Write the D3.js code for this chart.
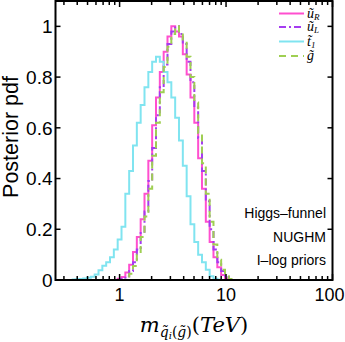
<!DOCTYPE html>
<html><head><meta charset="utf-8">
<script src="https://cdn.jsdelivr.net/npm/d3@7"></script>
<style>body{margin:0;background:#fff}svg{display:block}</style>
</head><body>
<script>
// bin lower edges in log10(TeV), bin width 0.036
const binEdgesLog = [-0.45,-0.414,-0.378,-0.342,-0.306,-0.27,-0.234,-0.198,-0.162,-0.126,-0.09,-0.054,-0.018,0.018,0.054,0.09,0.126,0.162,0.198,0.234,0.27,0.306,0.342,0.378,0.414,0.45,0.486,0.522,0.558,0.594,0.63,0.666,0.702,0.738,0.774,0.81,0.846,0.882,0.918,0.954,0.99,1.026,1.062,1.098];
const uR  = [0,0,0,0,0,0,0,0,0,0,0,0,0.005,0.012,0.03,0.06,0.11,0.17,0.24,0.34,0.47,0.61,0.72,0.82,0.90,0.96,1.0,0.98,0.96,0.89,0.81,0.72,0.62,0.48,0.36,0.23,0.15,0.09,0.05,0.02,0.005,0,0];
const uL  = [0,0,0,0,0,0,0,0,0,0,0,0,0,0.005,0.015,0.035,0.07,0.12,0.19,0.27,0.39,0.52,0.65,0.76,0.85,0.93,0.98,1.0,0.97,0.93,0.86,0.78,0.68,0.56,0.43,0.31,0.20,0.12,0.07,0.035,0.012,0.003,0];
const t1  = [0.002,0.003,0.004,0.006,0.009,0.013,0.022,0.038,0.056,0.07,0.09,0.12,0.16,0.21,0.34,0.43,0.53,0.62,0.69,0.76,0.82,0.86,0.88,0.86,0.82,0.78,0.72,0.64,0.55,0.45,0.33,0.22,0.15,0.10,0.07,0.04,0.015,0.005,0.001,0,0,0,0];
const gl  = [0,0,0,0,0,0,0,0,0,0,0,0,0,0,0.008,0.025,0.055,0.10,0.17,0.25,0.36,0.49,0.62,0.74,0.84,0.92,0.97,1.0,0.98,0.94,0.88,0.80,0.70,0.58,0.46,0.34,0.23,0.14,0.08,0.04,0.015,0.004,0];
const seriesNames = ["ũR","ũL","t̃1","g̃"];
const yTicks = [0,0.2,0.4,0.6,0.8,1];
const yTickLabels = ["0","0.2","0.4","0.6","0.8","1"];
const xMajor = [1,10,100];
const xMajorLabels = ["1","10","100"];
const notes = ["Higgs\u2013funnel","NUGHM","I\u2013log priors"];

const W=345,H=342;
const L=55.5,R=332.5,T=1,B=280;
const svg=d3.select("body").append("svg").attr("width",W).attr("height",H);
const x=d3.scaleLog().domain([0.25,100]).range([L,R]);
const y=d3.scaleLinear().domain([0,1.1]).range([B,T]);

const styles=[
 {data:uR,color:"#ff4fcf",dash:null,w:2},
 {data:uL,color:"#a53cf0",dash:"7,3,2,3",w:2},
 {data:t1,color:"#80e4f0",dash:null,w:2},
 {data:gl,color:"#9fcf52",dash:"7,5",w:2}
];
const line=d3.line().x(d=>x(Math.pow(10,d[0]))).y(d=>y(d[1])).curve(d3.curveStepAfter);
const g=svg.append("g");
styles.forEach(s=>{
  const pts=s.data.map((v,i)=>[binEdgesLog[i],v]);
  pts.push([binEdgesLog[s.data.length],s.data[s.data.length-1]]);
  g.append("path").attr("d",line(pts)).attr("fill","none").attr("stroke",s.color)
   .attr("stroke-width",s.w).attr("stroke-dasharray",s.dash);
});

// axes box
const ax=svg.append("g");
ax.append("rect").attr("x",L).attr("y",T).attr("width",R-L).attr("height",B-T)
  .attr("fill","none").attr("stroke","#000").attr("stroke-width",2);
// y ticks
yTicks.forEach((t,i)=>{
  ax.append("line").attr("x1",L).attr("x2",L+5).attr("y1",y(t)).attr("y2",y(t)).attr("stroke","#000").attr("stroke-width",1.5);
  ax.append("line").attr("x1",R).attr("x2",R-5).attr("y1",y(t)).attr("y2",y(t)).attr("stroke","#000").attr("stroke-width",1.5);
  ax.append("text").attr("x",L-3).attr("y",y(t)).attr("dy","0.36em").attr("text-anchor","end")
    .attr("font-family","Liberation Sans, Arial, sans-serif").attr("font-size",19).text(yTickLabels[i]);
});
// x ticks
const minors=[];
[0.1,1,10].forEach(d=>{for(let k=2;k<=9;k++){const v=d*k; if(v>=0.25&&v<100) minors.push(v);}});
minors.forEach(v=>{
  ax.append("line").attr("x1",x(v)).attr("x2",x(v)).attr("y1",B).attr("y2",B-4).attr("stroke","#000").attr("stroke-width",1.5);
  ax.append("line").attr("x1",x(v)).attr("x2",x(v)).attr("y1",T).attr("y2",T+4).attr("stroke","#000").attr("stroke-width",1.5);
});
xMajor.forEach((v,i)=>{
  ax.append("line").attr("x1",x(v)).attr("x2",x(v)).attr("y1",B).attr("y2",B-6).attr("stroke","#000").attr("stroke-width",1.5);
  ax.append("line").attr("x1",x(v)).attr("x2",x(v)).attr("y1",T).attr("y2",T+6).attr("stroke","#000").attr("stroke-width",1.5);
  ax.append("text").attr("x",Math.min(x(v),329.5)).attr("y",301).attr("text-anchor","middle")
    .attr("font-family","Liberation Sans, Arial, sans-serif").attr("font-size",18).text(xMajorLabels[i]);
});

// y label
svg.append("text").attr("transform","translate(17.5,137) rotate(-90)").attr("text-anchor","middle")
  .attr("font-family","Liberation Sans, Arial, sans-serif").attr("font-size",21.5).text("Posterior pdf");

// x label
const xl=svg.append("text").attr("x",194).attr("y",332).attr("text-anchor","middle")
  .attr("font-family","DejaVu Serif, Liberation Serif, serif").attr("font-size",21);
xl.append("tspan").attr("font-style","italic").text("m");
xl.append("tspan").attr("font-size",14).attr("font-style","italic").attr("dy",5).text("q\u0303");
xl.append("tspan").attr("font-size",10).attr("font-style","italic").attr("dy",2).text("i");
xl.append("tspan").attr("font-size",14).attr("dy",-2).text("(");
xl.append("tspan").attr("font-size",14).attr("font-style","italic").text("g\u0303");
xl.append("tspan").attr("font-size",14).text(")");
xl.append("tspan").attr("dy",-5).text("(");
xl.append("tspan").attr("font-style","italic").text("TeV");
xl.append("tspan").text(")");

// legend
const legY=[13.5,27,41.5,56];
const legSub=[["u","R"],["u","L"],["t","1"],["g",""]];
styles.forEach((s,i)=>{
  svg.append("line").attr("x1",279).attr("x2",304).attr("y1",legY[i]).attr("y2",legY[i])
    .attr("stroke",s.color).attr("stroke-width",s.w).attr("stroke-dasharray",s.dash);
  const t=svg.append("text").attr("x",307).attr("y",legY[i]+4)
    .attr("font-family","Liberation Serif, DejaVu Serif, serif").attr("font-size",14).attr("font-style","italic");
  t.append("tspan").text(legSub[i][0]+"\u0303");
  if(legSub[i][1]) t.append("tspan").attr("font-size",9).attr("dy",2).text(legSub[i][1]);
});

// notes
notes.forEach((n,i)=>{
  svg.append("text").attr("x",326).attr("y",[218,242,265][i]).attr("text-anchor","end")
    .attr("font-family","Liberation Sans, Arial, sans-serif").attr("font-size",14).text(n);
});
</script>
</body></html>
